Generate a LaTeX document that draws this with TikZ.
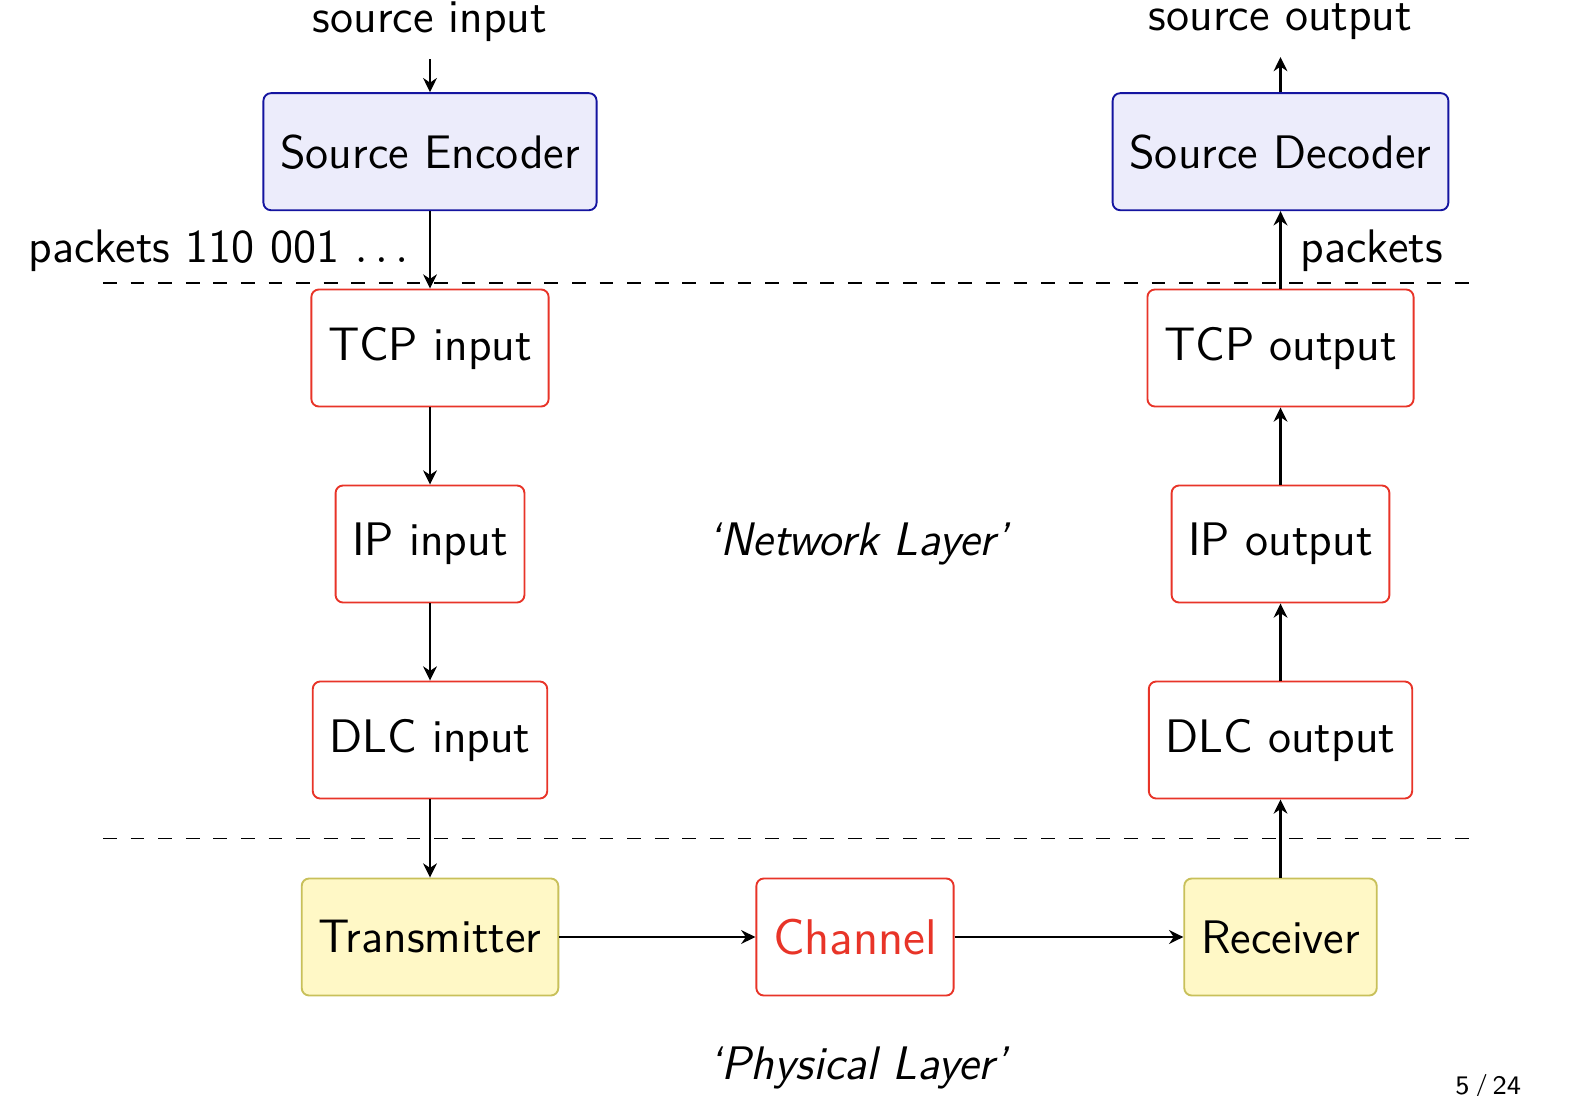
\documentclass[tikz,border=0pt]{standalone}
\usetikzlibrary{arrows.meta}
\definecolor{sblue}{RGB}{20,20,160}
\definecolor{sbluefill}{RGB}{236,236,251}
\definecolor{sred}{RGB}{232,52,40}
\definecolor{syelfill}{RGB}{255,248,198}
\definecolor{syeldraw}{RGB}{200,192,90}
\begin{document}
\begin{tikzpicture}[x=0.2392pt,y=-0.2392pt,
  font=\sffamily\fontsize{11.25}{13}\selectfont,
  box/.style={rounded corners=1.8pt, minimum height=28pt, inner xsep=4pt, line width=0.45pt},
  srcbox/.style={box, draw=sblue, fill=sbluefill},
  netbox/.style={box, draw=sred, fill=white},
  phybox/.style={box, draw=syeldraw, fill=syelfill},
  conn/.style={-{Stealth[length=3.4pt,width=3.3pt,inset=1.1pt]}, line width=0.5pt},
  layerline/.style={dash pattern=on 3.3pt off 3.3pt, line width=0.45pt}]
\useasboundingbox (0,0) rectangle (1586,1096);
% source boxes
\node[srcbox] (se) at (430,151.7) {Source Encoder};
\node[srcbox] (sd) at (1280.5,151.7) {Source Decoder};
% network boxes
\node[netbox] (tcpi) at (430,348) {TCP input};
\node[netbox] (ipi) at (430,544) {IP input};
\node[netbox] (dlci) at (430,740) {DLC input};
\node[netbox] (tcpo) at (1280.5,348) {TCP output};
\node[netbox] (ipo) at (1280.5,544) {IP output};
\node[netbox] (dlco) at (1280.5,740) {DLC output};
% physical
\node[phybox] (tx) at (430,937) {Transmitter};
\node[netbox, font=\sffamily\fontsize{12}{14}\selectfont, text=sred] (ch) at (855,937) {Channel};
\node[phybox] (rx) at (1280.5,937) {Receiver};
% labels
\node[anchor=base, inner sep=0pt] (srcin) at (430,32) {source input};
\node[anchor=base, inner sep=0pt] (srcout) at (1280.5,31) {source output};
\coordinate (inarr) at (430,59);
\coordinate (outarr) at (1280.5,57);
\node[anchor=base east, inner sep=0pt] (pk1) at (409,262) {packets 110 001 $\ldots$};
\node[anchor=base west, inner sep=0pt] (pk2) at (1300,262) {packets};
\node[anchor=base, inner sep=0pt, font=\sffamily\itshape\fontsize{11.25}{13}\selectfont] (netl) at (858,555) {`Network Layer'};
\node[anchor=base, inner sep=0pt, font=\sffamily\itshape\fontsize{11.25}{13}\selectfont] (phyl) at (858,1079) {`Physical Layer'};
\node[anchor=base east, inner sep=0pt, font=\sffamily\fontsize{6.4}{8}\selectfont] (pg) at (1522,1094) {5\hspace{0.17em}/\hspace{0.17em}24};
% dashed layer lines
\coordinate (d1l) at (103,283);
\coordinate (d1r) at (1469,283);
\coordinate (d2l) at (103,838.5);
\coordinate (d2r) at (1469,838.5);
\draw[layerline] (d1l) -- (d1r);
\draw[layerline] (d2l) -- (d2r);
% connectors
\draw[conn] (inarr) -- (se.north);
\draw[conn] (sd.north) -- (outarr);
\draw[conn] (se.south) -- (tcpi.north);
\draw[conn] (tcpi.south) -- (ipi.north);
\draw[conn] (ipi.south) -- (dlci.north);
\draw[conn] (dlci.south) -- (tx.north);
\draw[conn] (tx.east) -- (ch.west);
\draw[conn] (ch.east) -- (rx.west);
\draw[conn] (rx.north) -- (dlco.south);
\draw[conn] (dlco.north) -- (ipo.south);
\draw[conn] (ipo.north) -- (tcpo.south);
\draw[conn] (tcpo.north) -- (sd.south);
\end{tikzpicture}
\end{document}
